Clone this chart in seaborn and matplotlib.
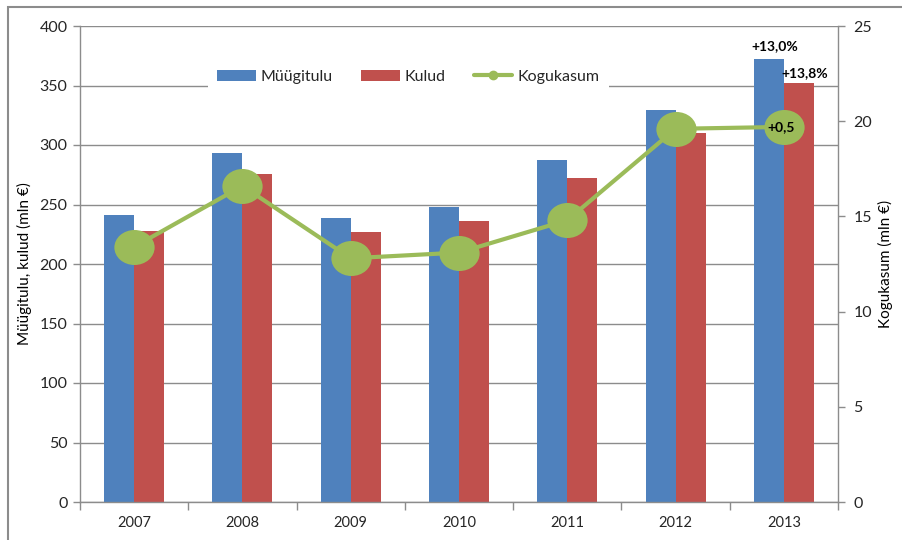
import numpy as np
import pandas as pd
import matplotlib
matplotlib.use("Agg")
import matplotlib.pyplot as plt
import seaborn as sns
from matplotlib.patches import Patch, Rectangle
from matplotlib.lines import Line2D
from matplotlib.path import Path
from matplotlib.markers import MarkerStyle
from matplotlib import font_manager as fm

# ---- data ----
years = ["2007", "2008", "2009", "2010", "2011", "2012", "2013"]
myygitulu = [241, 293, 239, 248, 287, 329, 372]
kulud = [228, 276, 227, 236, 272, 310, 352]
kogukasum = [13.4, 16.6, 12.8, 13.1, 14.8, 19.6, 19.7]
series_names = ["Müügitulu", "Kulud", "Kogukasum"]
bar_notes = ["+13,0%", "+13,8%"]
line_note = "+0,5"
left_label = "Müügitulu, kulud (mln €)"
right_label = "Kogukasum (mln €)"

BLUE = "#4F81BD"
RED = "#C0504D"
GREEN = "#9BBB59"
GRID = "#8C8C8C"
TXT = "#262626"

sns.set_theme(style="white")
plt.rcParams["font.family"] = ["Lato", "DejaVu Sans"]
names = {f.name for f in fm.fontManager.ttflist}
narrow = "Liberation Sans Narrow" if "Liberation Sans Narrow" in names else "Lato"

W, H = 903, 540
fig = plt.figure(figsize=(W / 100, H / 100), dpi=100)
fig.patch.set_facecolor("white")
ax = fig.add_axes([80 / W, 38 / H, 758 / W, 476 / H])

df = pd.DataFrame({
    "year": years * 2,
    "value": myygitulu + kulud,
    "series": [series_names[0]] * len(years) + [series_names[1]] * len(years),
})
sns.barplot(data=df, x="year", y="value", hue="series", palette=[BLUE, RED],
            width=0.555, gap=0, saturation=1, ax=ax, legend=False, errorbar=None,
            linewidth=0)
ax.set_axisbelow(True)
ax.set_ylim(0, 400)
ax.set_yticks(np.arange(0, 401, 50))
ax.yaxis.grid(True, color=GRID, lw=1)
ax.xaxis.grid(False)
ax.set_xlabel("")
ax.set_ylabel(left_label, fontsize=11, color="black", labelpad=5)

# annotations on bars of the last year
b1 = ax.containers[0][len(years) - 1]
b2 = ax.containers[1][len(years) - 1]
ax.annotate(bar_notes[0], xy=(b1.get_x() + b1.get_width() / 2, b1.get_height()),
            xytext=(4, 5), textcoords="offset points", ha="center", va="bottom",
            fontsize=10, fontweight="bold", color="black")
ax.annotate(bar_notes[1], xy=(b2.get_x() + b2.get_width() / 2, b2.get_height()),
            xytext=(4, 3), textcoords="offset points", ha="center", va="bottom",
            fontsize=10, fontweight="bold", color="black")

# ---- secondary axis: line ----
ax2 = ax.twinx()
sns.pointplot(x=years, y=kogukasum, color=GREEN, ax=ax2, markers="o",
              linestyles="-", errorbar=None, markersize=29, linewidth=3)
circ = Path.unit_circle()
ellipse = Path(circ.vertices * np.array([1.15, 1.0]), circ.codes)
for ln in ax2.lines:
    ln.set_marker(MarkerStyle(ellipse))
    ln.set_markersize(29)
    ln.set_markeredgewidth(0)
    ln.set_markerfacecolor(GREEN)
ax2.set_ylim(0, 25)
ax2.set_yticks(np.arange(0, 26, 5))
ax2.grid(False)
ax2.set_ylabel(right_label, fontsize=11, color="black", labelpad=4)
ax2.annotate(line_note, xy=(len(years) - 1, kogukasum[-1]), xytext=(-2, 0),
             textcoords="offset points", ha="center", va="center",
             fontsize=10, fontweight="bold", color="black")

ax.set_xlim(-0.5, len(years) - 0.5)

# x ticks: marks at category boundaries, labels at centres
ax.set_xticks(np.arange(-0.5, len(years), 1))
ax.set_xticklabels([""] * (len(years) + 1))
ax.set_xticks(np.arange(len(years)), minor=True)
ax.set_xticklabels(years, minor=True, fontsize=10.5, color=TXT, family=narrow)
ax.tick_params(axis="x", which="major", bottom=True, length=6, width=1,
               color=GRID, direction="out")
ax.tick_params(axis="x", which="minor", bottom=True, length=0, pad=10)
ax.tick_params(axis="y", left=True, length=5, width=1, color=GRID,
               direction="out", labelsize=11.5, labelcolor=TXT, pad=4)
ax2.tick_params(axis="y", right=True, length=5, width=1, color=GRID,
                direction="out", labelsize=11.5, labelcolor=TXT, pad=6)

for a in (ax, ax2):
    a.spines["top"].set_visible(False)
    for s in a.spines.values():
        s.set_color(GRID)
        s.set_linewidth(1)
ax.spines["right"].set_visible(False)
ax2.spines["left"].set_visible(False)
ax2.spines["bottom"].set_visible(False)

# legend
handles = [
    Patch(facecolor=BLUE, edgecolor="none"),
    Patch(facecolor=RED, edgecolor="none"),
    Line2D([0], [0], color=GREEN, lw=3, marker="o", markersize=6),
]
leg = ax2.legend(handles, series_names, loc="center", bbox_to_anchor=(0.433, 0.893),
                 ncol=3, frameon=True, fontsize=11.5, handlelength=2.4, handleheight=0.65,
                 columnspacing=1.8, handletextpad=0.3, borderpad=0.6,
                 borderaxespad=0)
leg.get_frame().set_facecolor("white")
leg.get_frame().set_edgecolor("none")
leg.get_frame().set_alpha(1)
leg.get_frame().set_boxstyle("square", pad=0)

# outer chart-area frame (partially cropped in the reference)
fig.patches.append(Rectangle((8 / W, -0.05), 1.2, 1 - 7 / H + 0.05,
                             transform=fig.transFigure, fill=False,
                             edgecolor="#8C8C8C", lw=1.5))

fig.savefig("out.png", dpi=100)
